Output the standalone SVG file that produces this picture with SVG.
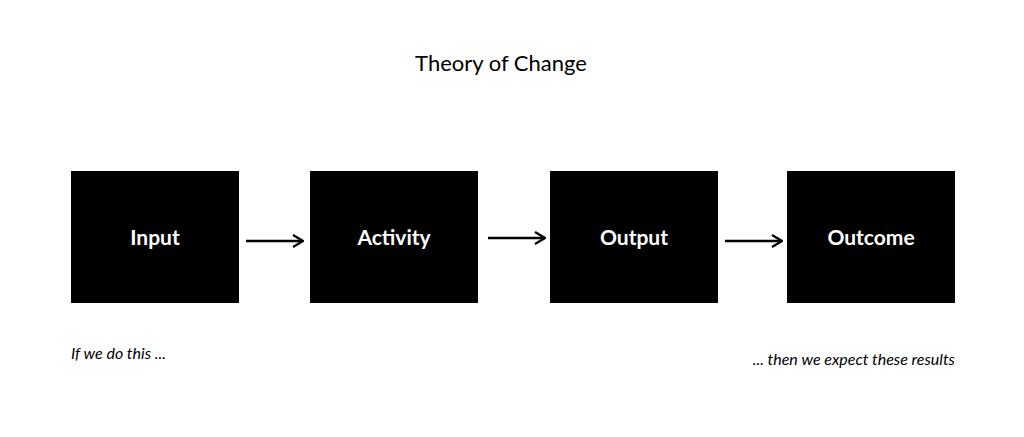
<svg xmlns="http://www.w3.org/2000/svg" width="1024" height="437" viewBox="0 0 1024 437">
<defs><marker id="ah" markerWidth="12" markerHeight="14" refX="11" refY="7" orient="auto" markerUnits="userSpaceOnUse"><path d="M1,1 L11,7 L1,13" fill="none" stroke="#000" stroke-width="2.2"/></marker></defs>
<style>
.box{fill:#000}
.lbl{font-family:Lato,"Open Sans",sans-serif;font-weight:bold;font-size:21px;fill:#fff;text-anchor:middle}
.note{font-family:Lato,"Open Sans",sans-serif;font-style:italic;font-size:16px;fill:#000}
.edge{stroke:#000;stroke-width:2.5;fill:none;marker-end:url(#ah)}
</style>
<rect width="1024" height="437" fill="#fff"/>
<text x="501" y="71" font-family="Lato,'Open Sans',sans-serif" font-size="22" text-anchor="middle">Theory of Change</text>
<g id="input"><rect class="box" x="71" y="171" width="168" height="132"/><text class="lbl" x="155" y="245">Input</text></g>
<g id="activity"><rect class="box" x="310" y="171" width="168" height="132"/><text class="lbl" x="394" y="245">Activity</text></g>
<g id="output"><rect class="box" x="550" y="171" width="168" height="132"/><text class="lbl" x="634" y="245">Output</text></g>
<g id="outcome"><rect class="box" x="787" y="171" width="168" height="132"/><text class="lbl" x="871" y="245">Outcome</text></g>
<g id="connectors">
<path class="edge" d="M246,241 H303"/>
<path class="edge" d="M488,238 H545"/>
<path class="edge" d="M725,241 H782"/>
</g>
<text class="note" x="71" y="359">If we do this ...</text>
<text class="note" x="955" y="365" text-anchor="end">... then we expect these results</text>
</svg>
